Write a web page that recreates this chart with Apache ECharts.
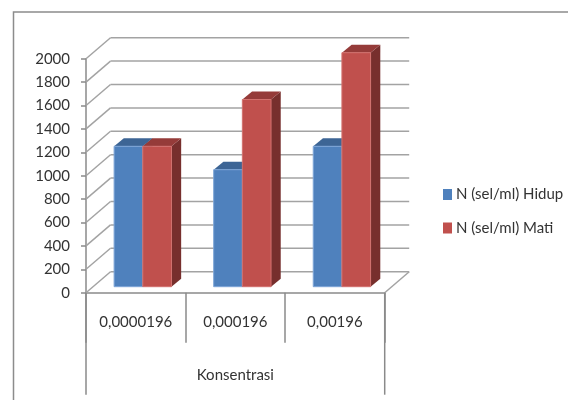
<!DOCTYPE html>
<html>
<head>
<meta charset="utf-8">
<style>html,body{margin:0;padding:0;background:#fff}#chart{width:568px;height:400px}</style>
<script src="https://cdn.jsdelivr.net/npm/echarts@6/dist/echarts.min.js"></script>
</head>
<body>
<div id="chart"></div>
<script>
const categories = ['0,0000196', '0,000196', '0,00196'];
const hidup = [1200, 1000, 1200];
const mati = [1200, 1600, 2000];
const yTicks = [0, 200, 400, 600, 800, 1000, 1200, 1400, 1600, 1800, 2000];

// Oblique projection: how far back each plane sits from the front edge of the floor.
const WALL = [24.5, -21];
const BAR_PLANE = [7, -6];
const BAR_DEPTH = [9.7, -8];
const BAR_BAND = 0.288;

const GRID_COLOR = '#a3a3a3';
const AXIS_COLOR = '#8a8a8a';
const TEXT_COLOR = '#333333';
const FONT = 'Lato, "Open Sans", sans-serif';
const FONT_SIZE = 15;

function line(x1, y1, x2, y2, stroke, width) {
  return { type: 'line', shape: { x1, y1, x2, y2 }, style: { stroke, lineWidth: width } };
}

// Back wall gridlines plus the diagonal running to the y axis.
function renderWall(params, api) {
  const cs = params.coordSys;
  const y = api.coord([0, api.value(0)])[1];
  const left = cs.x, right = cs.x + cs.width;
  const children = [
    line(left, y, left + WALL[0], y + WALL[1], GRID_COLOR, 1.5),
    line(left + WALL[0], y + WALL[1], right + WALL[0], y + WALL[1], GRID_COLOR, 1.5)
  ];
  if (api.value(0) === 0) {
    children.push(line(right, y, right + WALL[0], y + WALL[1], GRID_COLOR, 1.5));
  }
  return { type: 'group', children };
}

// Tall outer brackets of the two-level category axis.
function renderBrackets(params, api) {
  const cs = params.coordSys;
  const bottom = cs.y + cs.height + 102;
  return {
    type: 'group',
    children: [
      line(cs.x, cs.y + cs.height, cs.x, bottom, AXIS_COLOR, 1.5),
      line(cs.x + cs.width, cs.y + cs.height, cs.x + cs.width, bottom, AXIS_COLOR, 1.5)
    ]
  };
}

function makeBarRenderer(slot, front, edge, top, side) {
  return function (params, api) {
    const idx = api.value(0);
    const centre = api.coord([idx, 0]);
    const head = api.coord([idx, api.value(1)]);
    const w = api.size([1, 0])[0] * BAR_BAND;
    const x0 = centre[0] + BAR_PLANE[0] + slot * w;
    const x1 = x0 + w;
    const yBase = centre[1] + BAR_PLANE[1];
    const yTop = head[1] + BAR_PLANE[1];
    const dx = BAR_DEPTH[0], dy = BAR_DEPTH[1];
    return {
      type: 'group',
      children: [
        { type: 'polygon', shape: { points: [[x1, yTop], [x1 + dx, yTop + dy], [x1 + dx, yBase + dy], [x1, yBase]] }, style: { fill: side } },
        { type: 'polygon', shape: { points: [[x0, yTop], [x0 + dx, yTop + dy], [x1 + dx, yTop + dy], [x1, yTop]] }, style: { fill: top } },
        { type: 'rect', shape: { x: x0, y: yTop, width: w, height: yBase - yTop }, style: { fill: front, stroke: edge, lineWidth: 1 } }
      ]
    };
  };
}

const chart = echarts.init(document.getElementById('chart'), null, { renderer: 'canvas' });
chart.setOption({
  animation: false,
  backgroundColor: '#fff',
  textStyle: { fontFamily: FONT },
  graphic: [{
    type: 'polyline',
    silent: true,
    shape: { points: [[13.5, 400], [13.5, 12], [568, 12]] },
    style: { stroke: '#8c8c8c', lineWidth: 1.5, fill: null }
  }],
  grid: { left: 86, top: 58.7, width: 298.7, height: 234 },
  legend: {
    orient: 'vertical',
    left: 443,
    top: 187,
    padding: 0,
    icon: 'rect',
    itemWidth: 9,
    itemHeight: 11,
    itemGap: 18.5,
    data: ['N (sel/ml) Hidup', 'N (sel/ml) Mati'],
    textStyle: { color: TEXT_COLOR, fontSize: FONT_SIZE, fontFamily: FONT, padding: [0, 0, 0, -1] }
  },
  xAxis: {
    type: 'category',
    data: categories,
    name: 'Konsentrasi',
    nameLocation: 'middle',
    nameGap: 75,
    nameTextStyle: { color: TEXT_COLOR, fontSize: FONT_SIZE, fontFamily: FONT },
    axisLine: { onZero: false, lineStyle: { color: AXIS_COLOR, width: 1.5 } },
    axisTick: { show: true, alignWithLabel: false, length: 50, lineStyle: { color: AXIS_COLOR, width: 1.5 } },
    axisLabel: { margin: 22, color: TEXT_COLOR, fontSize: FONT_SIZE, fontFamily: FONT, interval: 0 },
    splitLine: { show: false }
  },
  yAxis: {
    type: 'value',
    min: 0,
    max: 2000,
    interval: 200,
    axisLine: { show: true, lineStyle: { color: AXIS_COLOR, width: 1.5 } },
    axisTick: { show: true, length: 5, lineStyle: { color: AXIS_COLOR, width: 1.5 } },
    axisLabel: { margin: 16, color: TEXT_COLOR, fontSize: FONT_SIZE, fontFamily: FONT, formatter: v => String(v) },
    splitLine: { show: false }
  },
  series: [
    { type: 'custom', z: 1, silent: true, clip: false, data: yTicks.map(v => [v]), encode: { y: 0 }, renderItem: renderWall },
    { type: 'custom', z: 1, silent: true, clip: false, data: [[0, 0]], renderItem: renderBrackets },
    {
      type: 'custom', name: 'N (sel/ml) Hidup', z: 3, clip: false, silent: true,
      itemStyle: { color: '#4f81bd' },
      data: hidup.map((v, i) => [i, v]), encode: { x: 0, y: 1 },
      renderItem: makeBarRenderer(-1, '#4f81bd', '#7ea6d8', '#3d6595', '#2f4f76')
    },
    {
      type: 'custom', name: 'N (sel/ml) Mati', z: 4, clip: false, silent: true,
      itemStyle: { color: '#c0504d' },
      data: mati.map((v, i) => [i, v]), encode: { x: 0, y: 1 },
      renderItem: makeBarRenderer(0, '#c0504d', '#d2716e', '#953b39', '#772f2d')
    }
  ]
});
</script>
</body>
</html>
